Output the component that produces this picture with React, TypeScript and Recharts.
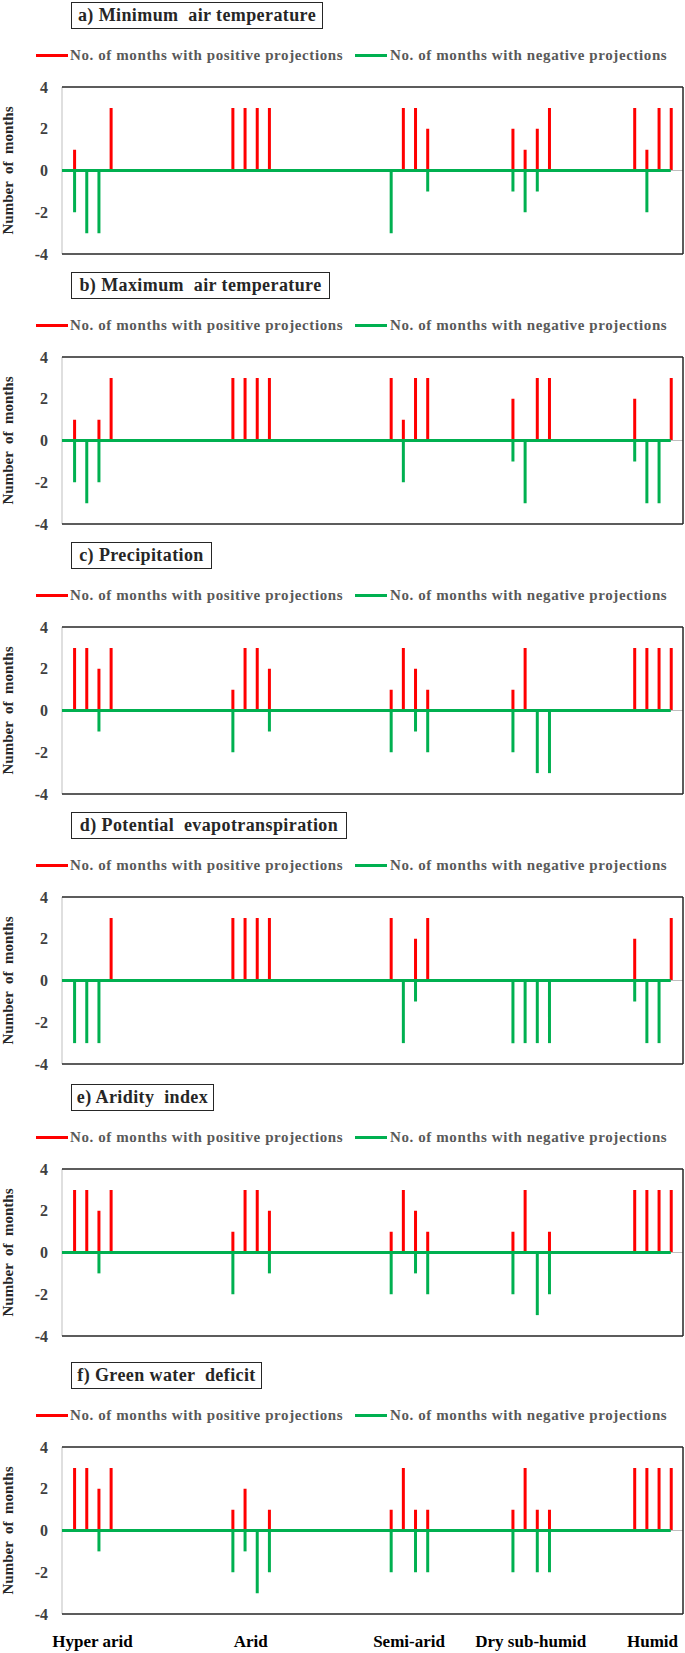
import React from 'react';
import { BarChart, Bar, XAxis, YAxis, ReferenceLine } from 'recharts';

// Categories (climate zones); each has 4 monthly-group bars, separated by empty category rows
const groups = ['Hyper arid', 'Arid', 'Semi-arid', 'Dry sub-humid', 'Humid'];
const barsPerGroup = 4;
const emptyRowsBefore = [0, 9, 9, 6, 6];
const yTicks = [-4, -2, 0, 2, 4];

const positiveLabel = 'No. of months with positive projections';
const negativeLabel = 'No. of months with negative projections';

const minTempPos = [1, 0, 0, 3, 3, 3, 3, 3, 0, 3, 3, 2, 2, 1, 2, 3, 3, 1, 3, 3];
const minTempNeg = [-2, -3, -3, 0, 0, 0, 0, 0, -3, 0, 0, -1, -1, -2, -1, 0, 0, -2, 0, 0];
const maxTempPos = [1, 0, 1, 3, 3, 3, 3, 3, 3, 1, 3, 3, 2, 0, 3, 3, 2, 0, 0, 3];
const maxTempNeg = [-2, -3, -2, 0, 0, 0, 0, 0, 0, -2, 0, 0, -1, -3, 0, 0, -1, -3, -3, 0];
const precipPos = [3, 3, 2, 3, 1, 3, 3, 2, 1, 3, 2, 1, 1, 3, 0, 0, 3, 3, 3, 3];
const precipNeg = [0, 0, -1, 0, -2, 0, 0, -1, -2, 0, -1, -2, -2, 0, -3, -3, 0, 0, 0, 0];
const petPos = [0, 0, 0, 3, 3, 3, 3, 3, 3, 0, 2, 3, 0, 0, 0, 0, 2, 0, 0, 3];
const petNeg = [-3, -3, -3, 0, 0, 0, 0, 0, 0, -3, -1, 0, -3, -3, -3, -3, -1, -3, -3, 0];
const aridityPos = [3, 3, 2, 3, 1, 3, 3, 2, 1, 3, 2, 1, 1, 3, 0, 1, 3, 3, 3, 3];
const aridityNeg = [0, 0, -1, 0, -2, 0, 0, -1, -2, 0, -1, -2, -2, 0, -3, -2, 0, 0, 0, 0];
const gwdPos = [3, 3, 2, 3, 1, 2, 0, 1, 1, 3, 1, 1, 1, 3, 1, 1, 3, 3, 3, 3];
const gwdNeg = [0, 0, -1, 0, -2, -1, -3, -2, -2, 0, -2, -2, -2, 0, -2, -2, 0, 0, 0, 0];

const panels = [
  { title: 'a) Minimum  air temperature', pos: minTempPos, neg: minTempNeg, top: 0, boxW: 252 },
  { title: 'b) Maximum  air temperature', pos: maxTempPos, neg: maxTempNeg, top: 270, boxW: 259 },
  { title: 'c) Precipitation', pos: precipPos, neg: precipNeg, top: 540, boxW: 141 },
  { title: 'd) Potential  evapotranspiration', pos: petPos, neg: petNeg, top: 810, boxW: 276 },
  { title: 'e) Aridity  index', pos: aridityPos, neg: aridityNeg, top: 1082, boxW: 143 },
  { title: 'f) Green water  deficit', pos: gwdPos, neg: gwdNeg, top: 1360, boxW: 191 },
];

// slot index of every bar along the category axis
const slots: number[] = [];
const groupCenters: number[] = [];
{
  let idx = 0;
  groups.forEach((_, g) => {
    idx += emptyRowsBefore[g];
    const start = idx;
    for (let k = 0; k < barsPerGroup; k++) {
      slots.push(idx);
      idx++;
    }
    groupCenters.push((start + idx - 1) / 2);
  });
}
const xMin = slots[0] - 1;
const xLast = slots[slots.length - 1];
const xMax = xLast + 1;

const RED = '#FF0000';
const GREEN = '#00B050';
const SERIF = '"Liberation Serif", "Times New Roman", serif';

function Panel({ p, last }: { p: any; last: boolean }) {
  const data = slots.map((x, i) => ({ x, pos: p.pos[i], neg: p.neg[i] }));
  const plotTop = 87;
  const plotH = 167;
  const xAxisH = last ? 30 : 0;
  const bottom = last ? 8 : 16;
  const h = plotTop + plotH + xAxisH + bottom;
  return (
    <div style={{ position: 'absolute', left: 0, top: p.top, width: 685, height: h }}>
      <div
        style={{
          position: 'absolute',
          left: 71,
          top: 2,
          width: p.boxW,
          height: 27,
          boxSizing: 'border-box',
          border: '1.5px solid #262626',
          fontFamily: SERIF,
          fontWeight: 'bold',
          fontSize: 18,
          lineHeight: '24px',
          letterSpacing: 0.4,
          color: '#262626',
          textAlign: 'center',
          whiteSpace: 'pre',
        }}
      >
        {p.title}
      </div>
      <div style={{ position: 'absolute', left: 36, top: 54, width: 32, height: 3, background: RED }} />
      <div
        style={{
          position: 'absolute', left: 70, top: 45, lineHeight: '20px', fontSize: 15, fontWeight: 'bold',
          fontFamily: SERIF, color: '#595959', letterSpacing: 0.6, whiteSpace: 'pre',
        }}
      >
        {positiveLabel}
      </div>
      <div style={{ position: 'absolute', left: 355, top: 54, width: 32, height: 3, background: GREEN }} />
      <div
        style={{
          position: 'absolute', left: 390, top: 45, lineHeight: '20px', fontSize: 15, fontWeight: 'bold',
          fontFamily: SERIF, color: '#595959', letterSpacing: 0.6, whiteSpace: 'pre',
        }}
      >
        {negativeLabel}
      </div>
      <svg style={{ position: 'absolute', left: 0, top: 0 }} width={30} height={h}>
        <text
          x={13}
          y={plotTop + plotH / 2}
          transform={`rotate(-90 13 ${plotTop + plotH / 2})`}
          textAnchor="middle"
          fontFamily={SERIF}
          fontWeight="bold"
          fontSize={15}
          fill="#262626"
          style={{ whiteSpace: 'pre' }}
        >
          {'Number  of  months'}
        </text>
      </svg>
      <div style={{ position: 'absolute', left: 0, top: 0 }}>
        <BarChart
          width={685}
          height={h}
          data={data}
          stackOffset="sign"
          margin={{ top: plotTop, right: 2, left: 2, bottom }}
        >
          <XAxis
            dataKey="x"
            type="number"
            domain={[xMin, xMax]}
            allowDataOverflow
            hide={!last}
            height={xAxisH}
            ticks={groupCenters}
            interval={0}
            tickFormatter={(v: number) => groups[groupCenters.indexOf(v)] || ''}
            axisLine={false}
            tickLine={false}
            tickSize={6}
            tickMargin={15}
            tick={{ fontSize: 17, fontWeight: 'bold', fill: '#000', fontFamily: SERIF }}
          />
          <YAxis
            type="number"
            domain={[-4, 4]}
            ticks={yTicks}
            width={60}
            axisLine={false}
            tickLine={false}
            tickSize={6}
            tickMargin={8}
            tick={{ fontSize: 16, fontWeight: 'bold', fill: '#404040', fontFamily: SERIF }}
          />
          <ReferenceLine y={0} stroke="#bfbfbf" strokeWidth={1} />
          <ReferenceLine x={xMin} stroke="#bfbfbf" strokeWidth={1} />
          <ReferenceLine x={xMax} stroke="#262626" strokeWidth={1.5} />
          <ReferenceLine y={4} stroke="#262626" strokeWidth={1.5} />
          <ReferenceLine y={-4} stroke="#262626" strokeWidth={1.5} />
          <Bar dataKey="pos" stackId="s" fill={RED} barSize={3} isAnimationActive={false} />
          <Bar dataKey="neg" stackId="s" fill={GREEN} barSize={3} isAnimationActive={false} />
          <ReferenceLine
            segment={[{ x: xMin, y: 0 }, { x: xLast, y: 0 }]}
            stroke={GREEN}
            strokeWidth={3}
          />
        </BarChart>
      </div>
    </div>
  );
}

export default function App() {
  return (
    <div style={{ position: 'absolute', left: 0, top: 0, width: 685, height: 1653, background: '#fff', overflow: 'hidden' }}>
      {panels.map((p, i) => (
        <Panel key={i} p={p} last={i === panels.length - 1} />
      ))}
    </div>
  );
}
